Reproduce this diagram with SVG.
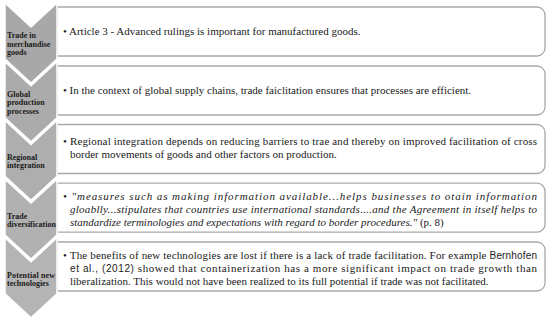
<svg xmlns="http://www.w3.org/2000/svg" width="550" height="320" viewBox="0 0 550 320">
<style>
.box{fill:#ffffff;stroke:#a9a9a9;stroke-width:1.3}
.chev{stroke:#ffffff;stroke-width:1.5}
.lbl{font-family:"Liberation Serif","Times New Roman",serif;font-weight:bold;font-size:8px;fill:#1a1a1a}
.txt{font-family:"Liberation Serif","Times New Roman",serif;font-size:11px;fill:#1a1a1a}
.it{font-style:italic}
.sans{font-family:"Liberation Sans",Arial,sans-serif;font-size:10px}
</style>
<rect width="550" height="320" fill="#ffffff"/>
<g id="row1">
<path class="box" d="M57,7 H537 A8,8 0 0 1 545,15 V48 A8,8 0 0 1 537,56 H57 Z"/>
<path class="chev" fill="#a8a8a8" d="M5,3 L31,27 L57,3 L57,59 L31,83 L5,59 Z"/>
<text class="lbl" x="7" y="38">Trade in</text>
<text class="lbl" x="7" y="46.5">merchandise</text>
<text class="lbl" x="7" y="55">goods</text>
<text class="txt" x="63" y="35">• Article 3 - Advanced rulings is important for manufactured goods.</text>
</g>
<g id="row2">
<path class="box" d="M57,66 H537 A8,8 0 0 1 545,74 V107 A8,8 0 0 1 537,115 H57 Z"/>
<path class="chev" fill="#ababab" d="M5,61.7 L31,85.7 L57,61.7 L57,117.7 L31,141.7 L5,117.7 Z"/>
<text class="lbl" x="7" y="96.5">Global</text>
<text class="lbl" x="7" y="105">production</text>
<text class="lbl" x="7" y="113.5">processes</text>
<text class="txt" x="63" y="94">• In the context of global supply chains, trade faiclitation ensures that processes are efficient.</text>
</g>
<g id="row3">
<path class="box" d="M57,124.5 H537 A8,8 0 0 1 545,132.5 V165.5 A8,8 0 0 1 537,173.5 H57 Z"/>
<path class="chev" fill="#aeaeae" d="M5,120.4 L31,144.4 L57,120.4 L57,176.4 L31,200.4 L5,176.4 Z"/>
<text class="lbl" x="7" y="160">Regional</text>
<text class="lbl" x="7" y="168">integration</text>
<text class="txt" x="63" y="145" textLength="474" lengthAdjust="spacing">• Regional integration depends on reducing barriers to trae and thereby on improved facilitation of cross</text>
<text class="txt" x="70" y="158">border movements of goods and other factors on production.</text>
</g>
<g id="row4">
<path class="box" d="M57,183.2 H537 A8,8 0 0 1 545,191.2 V224.2 A8,8 0 0 1 537,232.2 H57 Z"/>
<path class="chev" fill="#b1b1b1" d="M5,179.1 L31,203.1 L57,179.1 L57,235.1 L31,259.1 L5,235.1 Z"/>
<text class="lbl" x="7" y="218.5">Trade</text>
<text class="lbl" x="7" y="226.5">diversification</text>
<text class="txt it" x="63" y="200" textLength="474" lengthAdjust="spacing">• "measures such as making information available...helps businesses to otain information</text>
<text class="txt it" x="70" y="213" textLength="467" lengthAdjust="spacing">gloablly...stipulates that countries use international standards....and the Agreement in itself helps to</text>
<text class="txt" x="70" y="226"><tspan class="it">standardize terminologies and expectations with regard to border procedures."</tspan> (p. 8)</text>
</g>
<g id="row5">
<path class="box" d="M57,242 H537 A8,8 0 0 1 545,250 V283 A8,8 0 0 1 537,291 H57 Z"/>
<path class="chev" fill="#b4b4b4" d="M5,237.8 L31,261.8 L57,237.8 L57,293.8 L31,317.8 L5,293.8 Z"/>
<text class="lbl" x="7" y="278" textLength="48" lengthAdjust="spacing">Potential new</text>
<text class="lbl" x="7" y="286">technologies</text>
<text class="txt" x="63" y="259" textLength="474" lengthAdjust="spacing">• The benefits of new technologies are lost if there is a lack of trade facilitation. For example <tspan class="sans">Bernhofen</tspan></text>
<text class="txt" x="70" y="272" textLength="467" lengthAdjust="spacing"><tspan class="sans">et al., (2012)</tspan> showed that containerization has a more significant impact on trade growth than</text>
<text class="txt" x="70" y="285">liberalization. This would not have been realized to its full potential if trade was not facilitated.</text>
</g>
<g id="connectors"></g>
</svg>
